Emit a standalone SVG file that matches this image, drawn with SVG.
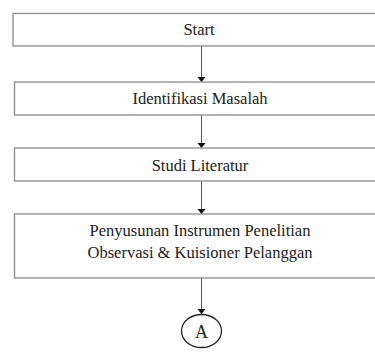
<svg xmlns="http://www.w3.org/2000/svg" width="375" height="354" viewBox="0 0 375 354">
<defs>
<style>
.box{fill:#fff;stroke:#8a8a8a;stroke-width:1.3}
.edge{stroke:#5a5a5a;stroke-width:1;fill:none}
.lbl{font-family:"Liberation Serif","Times New Roman",serif;font-size:16.5px;fill:#222;text-anchor:middle}
</style>
<marker id="arr" viewBox="0 0 10 10" refX="10" refY="5" markerWidth="5.5" markerHeight="9" markerUnits="userSpaceOnUse" orient="auto-start-reverse" preserveAspectRatio="none">
<path d="M0,0 L10,5 L0,10 Z" fill="#111"/>
</marker>
</defs>
<rect width="375" height="354" fill="#fff"/>
<g id="connectors">
<line class="edge" x1="201.5" y1="46" x2="201.5" y2="82" marker-end="url(#arr)"/>
<line class="edge" x1="201.5" y1="115" x2="201.5" y2="148" marker-end="url(#arr)"/>
<line class="edge" x1="201.5" y1="181" x2="201.5" y2="214" marker-end="url(#arr)"/>
<line class="edge" x1="201.5" y1="278" x2="201.5" y2="314" marker-end="url(#arr)"/>
</g>
<g id="start">
<rect class="box" x="13" y="13.5" width="370" height="32.5"/>
<text class="lbl" x="199" y="35">Start</text>
</g>
<g id="identifikasi">
<rect class="box" x="14.5" y="82" width="370" height="33"/>
<text class="lbl" x="200" y="104">Identifikasi Masalah</text>
</g>
<g id="studi">
<rect class="box" x="14.5" y="148" width="370" height="33"/>
<text class="lbl" x="200" y="170.5">Studi Literatur</text>
</g>
<g id="penyusunan">
<rect class="box" x="14.5" y="214" width="370" height="64"/>
<text class="lbl" x="200" y="236">Penyusunan Instrumen Penelitian</text>
<text class="lbl" x="200" y="258">Observasi &amp; Kuisioner Pelanggan</text>
</g>
<g id="connector-a">
<ellipse cx="201.5" cy="331" rx="20" ry="16.5" fill="#fff" stroke="#222" stroke-width="1.3"/>
<text class="lbl" x="201.5" y="337.5" style="font-size:18px">A</text>
</g>
</svg>
